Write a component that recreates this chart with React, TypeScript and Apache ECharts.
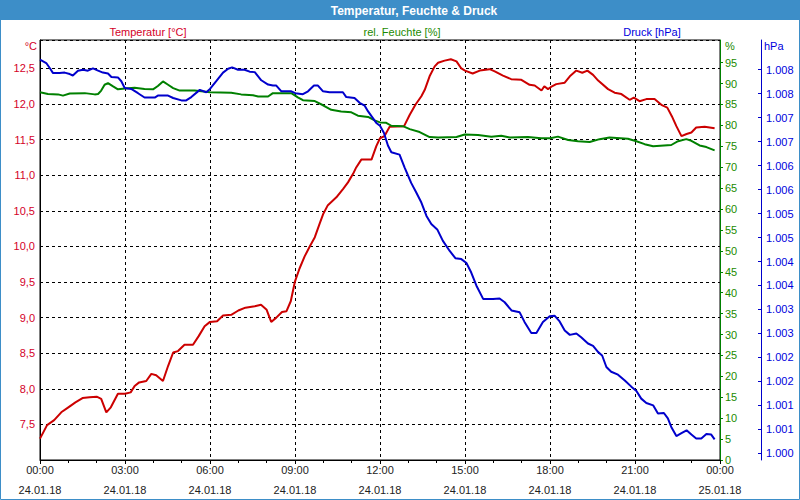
import React, { useEffect, useRef } from 'react';
import * as echarts from 'echarts';

const titleText = 'Temperatur, Feuchte & Druck';
const seriesNames = ['Temperatur [°C]', 'rel. Feuchte [%]', 'Druck [hPa]'];
const unitNames = ['°C', '%', 'hPa'];

const hourLabels = ['00:00', '03:00', '06:00', '09:00', '12:00', '15:00', '18:00', '21:00', '00:00'];
const dateLabels = ['24.01.18', '24.01.18', '24.01.18', '24.01.18', '24.01.18', '24.01.18', '24.01.18', '24.01.18', '25.01.18'];

const humidityTicks = [0, 5, 10, 15, 20, 25, 30, 35, 40, 45, 50, 55, 60, 65, 70, 75, 80, 85, 90, 95];
const pressureTicks = [1000, 1000.5, 1001, 1001.5, 1002, 1002.5, 1003, 1003.5, 1004, 1004.5, 1005, 1005.5, 1006, 1006.5, 1007, 1007.5, 1008];

// [hour of day, °C]
const temperature = [
  [0, 7.3], [0.25, 7.49], [0.5, 7.56], [0.75, 7.67], [1, 7.74], [1.25, 7.81], [1.5, 7.87], [1.75, 7.88],
  [2, 7.89], [2.16, 7.86], [2.34, 7.67], [2.5, 7.74], [2.75, 7.93], [3, 7.93], [3.2, 7.95], [3.34, 8.04],
  [3.5, 8.09], [3.75, 8.11], [3.93, 8.21], [4.1, 8.19], [4.34, 8.11], [4.52, 8.32], [4.7, 8.51], [4.87, 8.53],
  [5.1, 8.62], [5.4, 8.62], [5.6, 8.74], [5.81, 8.88], [6, 8.94], [6.25, 8.95], [6.46, 9.03], [6.75, 9.04],
  [7, 9.1], [7.25, 9.14], [7.58, 9.16], [7.8, 9.18], [8, 9.11], [8.16, 8.94], [8.34, 9.0], [8.54, 9.08],
  [8.7, 9.09], [8.85, 9.23], [9, 9.51], [9.16, 9.69], [9.34, 9.86], [9.52, 10.0], [9.7, 10.13], [9.87, 10.32],
  [10, 10.46], [10.16, 10.58], [10.46, 10.69], [10.7, 10.81], [10.87, 10.9], [11.05, 11.02], [11.16, 11.11],
  [11.34, 11.22], [11.7, 11.22], [11.87, 11.41], [12, 11.52], [12.16, 11.55], [12.34, 11.68], [12.85, 11.69],
  [13.05, 11.85], [13.25, 11.99], [13.46, 12.11], [13.58, 12.2], [13.75, 12.39], [13.93, 12.53], [14.05, 12.58],
  [14.28, 12.61], [14.5, 12.63], [14.7, 12.6], [14.87, 12.5], [15, 12.47], [15.27, 12.43], [15.52, 12.47],
  [15.87, 12.49], [16.05, 12.46], [16.34, 12.4], [16.63, 12.35], [16.99, 12.34], [17.28, 12.27], [17.46, 12.26],
  [17.7, 12.19], [17.8, 12.25], [17.93, 12.21], [18.07, 12.25], [18.22, 12.28], [18.52, 12.3], [18.7, 12.39],
  [18.93, 12.47], [19.14, 12.44], [19.32, 12.47], [19.52, 12.41], [19.7, 12.33], [20.05, 12.21], [20.28, 12.16],
  [20.52, 12.14], [20.81, 12.06], [20.96, 12.09], [21.16, 12.04], [21.4, 12.07], [21.69, 12.07], [21.93, 11.99],
  [22.14, 11.95], [22.3, 11.83], [22.46, 11.69], [22.64, 11.55], [22.82, 11.58], [22.99, 11.6], [23.16, 11.67],
  [23.46, 11.68], [23.81, 11.66],
];

// [hour of day, %]
const humidity = [
  [0, 87.9], [0.28, 87.5], [0.64, 87.4], [0.81, 87.1], [1.05, 87.6], [1.58, 87.7], [1.93, 87.4], [2.05, 87.5],
  [2.16, 88.3], [2.28, 89.7], [2.4, 90.1], [2.58, 89.3], [2.75, 88.6], [3, 88.8], [3.34, 89.0], [3.69, 88.7],
  [3.99, 88.6], [4.16, 89.4], [4.34, 90.5], [4.52, 89.7], [4.7, 88.9], [4.93, 88.3], [5.46, 88.3], [6, 87.9],
  [6.75, 87.8], [7.1, 87.4], [7.52, 87.2], [7.7, 86.9], [8.05, 86.9], [8.22, 87.7], [8.87, 87.7], [9.1, 86.7],
  [9.28, 86.0], [9.7, 85.8], [9.99, 84.8], [10.28, 83.7], [10.63, 83.3], [10.99, 83.1], [11.22, 82.3],
  [11.58, 82.0], [11.81, 81.2], [12, 80.7], [12.22, 80.6], [12.4, 79.9], [12.81, 79.8], [13.05, 79.1],
  [13.4, 78.4], [13.75, 77.2], [14.05, 77.1], [14.7, 77.2], [14.99, 77.8], [15.46, 77.7], [15.93, 77.3],
  [16.28, 77.5], [16.58, 77.1], [17.22, 77.2], [17.69, 76.9], [18, 76.9], [18.28, 77.3], [18.64, 76.5],
  [18.99, 76.2], [19.4, 76.0], [19.75, 76.7], [20.1, 77.1], [20.75, 76.8], [21.05, 76.2], [21.34, 75.5],
  [21.64, 75.0], [22.28, 75.3], [22.52, 76.2], [22.81, 76.7], [22.99, 76.3], [23.28, 75.2], [23.52, 74.8],
  [23.81, 74.0],
];

// [hour of day, hPa]
const pressure = [
  [0, 1008.21], [0.22, 1008.14], [0.35, 1008.03], [0.46, 1007.93], [0.69, 1007.93], [0.87, 1007.94],
  [1.05, 1007.91], [1.16, 1007.88], [1.34, 1007.98], [1.52, 1008.0], [1.69, 1007.98], [1.87, 1008.03],
  [2.05, 1007.98], [2.22, 1007.94], [2.4, 1007.92], [2.52, 1007.85], [2.75, 1007.84], [2.87, 1007.76],
  [2.99, 1007.62], [3.22, 1007.6], [3.46, 1007.51], [3.69, 1007.42], [4.05, 1007.42], [4.16, 1007.46],
  [4.52, 1007.46], [4.7, 1007.41], [4.99, 1007.36], [5.16, 1007.36], [5.34, 1007.43], [5.64, 1007.58],
  [5.87, 1007.53], [6, 1007.6], [6.22, 1007.76], [6.46, 1007.94], [6.64, 1008.02], [6.78, 1008.05],
  [6.99, 1008.0], [7.22, 1008.0], [7.4, 1007.96], [7.58, 1007.95], [7.81, 1007.78], [8.05, 1007.69],
  [8.22, 1007.67], [8.34, 1007.67], [8.52, 1007.55], [8.87, 1007.55], [9.01, 1007.51], [9.28, 1007.49],
  [9.46, 1007.55], [9.67, 1007.67], [9.81, 1007.67], [9.99, 1007.55], [10.22, 1007.53], [10.69, 1007.53],
  [10.81, 1007.43], [11.1, 1007.41], [11.28, 1007.31], [11.46, 1007.25], [11.58, 1007.13], [11.75, 1006.99],
  [11.87, 1006.89], [12, 1006.83], [12.14, 1006.68], [12.28, 1006.42], [12.4, 1006.28], [12.69, 1006.23],
  [12.87, 1005.96], [13.1, 1005.64], [13.28, 1005.44], [13.46, 1005.23], [13.64, 1004.95], [13.81, 1004.78],
  [14.02, 1004.67], [14.22, 1004.43], [14.46, 1004.22], [14.66, 1004.07], [14.87, 1004.05], [15.05, 1003.97],
  [15.22, 1003.77], [15.4, 1003.5], [15.64, 1003.22], [15.99, 1003.22], [16.22, 1003.23], [16.4, 1003.15],
  [16.64, 1002.98], [16.93, 1002.94], [17.1, 1002.74], [17.34, 1002.51], [17.52, 1002.51], [17.75, 1002.74],
  [17.99, 1002.86], [18.16, 1002.87], [18.34, 1002.75], [18.52, 1002.56], [18.7, 1002.47], [18.93, 1002.5],
  [19.1, 1002.42], [19.34, 1002.29], [19.52, 1002.24], [19.7, 1002.11], [19.84, 1002.04], [19.99, 1001.8],
  [20.16, 1001.7], [20.4, 1001.64], [20.64, 1001.52], [20.87, 1001.39], [21.05, 1001.3], [21.22, 1001.14],
  [21.4, 1001.05], [21.64, 1001.0], [21.81, 1000.83], [22.02, 1000.84], [22.16, 1000.73], [22.28, 1000.55],
  [22.46, 1000.36], [22.64, 1000.42], [22.82, 1000.48], [22.99, 1000.39], [23.16, 1000.31], [23.34, 1000.31],
  [23.52, 1000.4], [23.69, 1000.39], [23.81, 1000.29],
];

const RED = '#cc0000';
const RED_TXT = '#d40028';
const GREEN = '#008000';
const GREEN_TXT = '#1c8a00';
const BLUE = '#0000cc';
const BLUE_TXT = '#0000dd';
const BAR = '#3d8ec8';
const FONT = 'Liberation Sans';

function fmtPressure(v: number): string {
  const r = Math.round(v);
  return Math.floor(r / 1000) + '.' + String(r % 1000).padStart(3, '0');
}

export default function App() {
  const ref = useRef<HTMLDivElement>(null);
  useEffect(() => {
    document.body.style.margin = '0';
    const chart = echarts.init(ref.current!, null, { renderer: 'svg' });
    const dash = [3, 3];
    chart.setOption({
      animation: false,
      backgroundColor: '#ffffff',
      textStyle: { fontFamily: FONT },
      graphic: [
        { type: 'rect', shape: { x: 0, y: 0, width: 800, height: 20 }, style: { fill: BAR }, z: 10 },
        { type: 'rect', shape: { x: 0.5, y: 0.5, width: 799, height: 499 }, style: { fill: 'none', stroke: BAR, lineWidth: 1 }, z: 10 },
        { type: 'text', x: 414, y: 11, z: 11, style: { text: titleText, fill: '#ffffff', font: `bold 12px "${FONT}"`, align: 'center', verticalAlign: 'middle' } },
        { type: 'text', x: 148, y: 32, style: { text: seriesNames[0], fill: RED_TXT, font: `11px "${FONT}"`, align: 'center', verticalAlign: 'middle' } },
        { type: 'text', x: 402, y: 32, style: { text: seriesNames[1], fill: GREEN_TXT, font: `11px "${FONT}"`, align: 'center', verticalAlign: 'middle' } },
        { type: 'text', x: 652, y: 32, style: { text: seriesNames[2], fill: BLUE_TXT, font: `11px "${FONT}"`, align: 'center', verticalAlign: 'middle' } },
        { type: 'text', x: 37, y: 46, style: { text: unitNames[0], fill: RED_TXT, font: `11px "${FONT}"`, align: 'right', verticalAlign: 'middle' } },
        { type: 'text', x: 725, y: 46, style: { text: unitNames[1], fill: GREEN_TXT, font: `11px "${FONT}"`, align: 'left', verticalAlign: 'middle' } },
        { type: 'text', x: 764, y: 46, style: { text: unitNames[2], fill: BLUE_TXT, font: `11px "${FONT}"`, align: 'left', verticalAlign: 'middle' } },
      ],
      grid: { left: 40, right: 80, top: 40, bottom: 38, show: true, borderColor: '#000', borderWidth: 1, backgroundColor: 'transparent' },
      xAxis: {
        type: 'value',
        min: 0,
        max: 24,
        interval: 3,
        axisLine: { show: true, lineStyle: { color: '#000' } },
        axisTick: { show: true, length: 4, lineStyle: { color: '#000' } },
        minorTick: { show: true, splitNumber: 3, length: 3, lineStyle: { color: '#000' } },
        splitLine: { show: true, lineStyle: { color: '#000', type: dash, width: 1 } },
        axisLabel: {
          color: '#222',
          fontSize: 11,
          lineHeight: 20,
          margin: 0,
          showMinLabel: true,
          showMaxLabel: true,
          formatter: (v: number) => {
            const i = Math.round(v / 3);
            return hourLabels[i] + '\n' + dateLabels[i];
          },
        },
      },
      yAxis: [
        {
          type: 'value',
          position: 'left',
          min: 7,
          max: 12.9,
          interval: 0.5,
          axisLine: { show: true, lineStyle: { color: '#000' } },
          axisTick: { show: false },
          axisLabel: {
            color: RED_TXT,
            fontSize: 11,
            margin: 5,
            showMinLabel: false,
            showMaxLabel: false,
            formatter: (v: number) => v.toFixed(1).replace('.', ','),
          },
          splitLine: { show: true, lineStyle: { color: '#000', type: dash, width: 1 } },
        },
        {
          type: 'value',
          position: 'right',
          offset: 0,
          min: 0,
          max: 100.4,
          axisLine: { show: true, lineStyle: { color: GREEN } },
          axisTick: { show: true, length: 3, customValues: humidityTicks, lineStyle: { color: GREEN } },
          axisLabel: { color: GREEN_TXT, fontSize: 11, margin: 5, customValues: humidityTicks },
          splitLine: { show: false },
        },
        {
          type: 'value',
          position: 'right',
          offset: 41,
          min: 999.86,
          max: 1008.62,
          axisLine: { show: true, lineStyle: { color: BLUE } },
          axisTick: { show: true, inside: true, length: 3, customValues: pressureTicks, lineStyle: { color: BLUE } },
          axisLabel: { color: BLUE_TXT, fontSize: 11, margin: 5, customValues: pressureTicks, formatter: (v: number) => fmtPressure(v) },
          splitLine: { show: false },
        },
      ],
      series: [
        { name: seriesNames[0], type: 'line', yAxisIndex: 0, data: temperature, showSymbol: false, lineStyle: { color: RED, width: 2 }, itemStyle: { color: RED } },
        { name: seriesNames[1], type: 'line', yAxisIndex: 1, data: humidity, showSymbol: false, lineStyle: { color: GREEN, width: 2 }, itemStyle: { color: GREEN } },
        { name: seriesNames[2], type: 'line', yAxisIndex: 2, data: pressure, showSymbol: false, lineStyle: { color: BLUE, width: 2 }, itemStyle: { color: BLUE } },
      ],
    });
    return () => chart.dispose();
  }, []);
  return <div ref={ref} style={{ width: 800, height: 500 }} />;
}
